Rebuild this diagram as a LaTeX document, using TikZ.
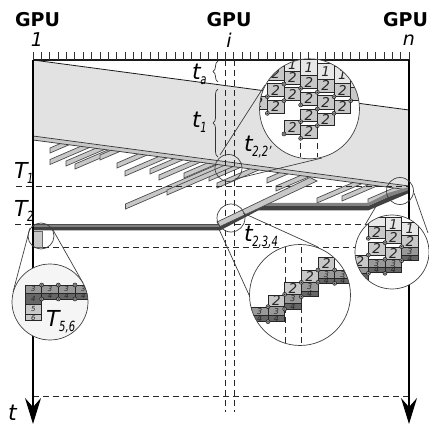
\documentclass[tikz,border=0pt]{standalone}
\usepackage{fontspec}
\usepackage{graphicx}
\setmainfont{DejaVu Sans}
\usetikzlibrary{arrows.meta,decorations.pathreplacing}
\definecolor{gi}{HTML}{E8E8E8}
\definecolor{gii}{HTML}{C8C8C8}
\definecolor{giii}{HTML}{999999}
\definecolor{giv}{HTML}{666666}
\definecolor{bandc}{HTML}{E2E2E2}
\definecolor{inkc}{HTML}{1A1A1A}
\newcount\blkn
\newcommand{\fs}[1]{\fontsize{#1}{#1}\selectfont}
\newcommand{\subl}[1]{\kern-0.5pt\raisebox{-5pt}{\scalebox{0.72}[1]{\fs{14}#1}}}
\newcommand{\blk}[6]{\draw[blockbox,fill=#5] (#1,#2) rectangle (#3,#4);
  \global\advance\blkn by 1
  \node[blocklab] (blk\the\blkn) at ({(#1+#3)/2},{(#2+#4)/2}) {#6};}
\newcommand{\dotm}[2]{\fill[giii,draw=inkc,line width=0.5pt] (#1,#2) circle[radius=2pt];\fill[inkc] (#1,#2) circle[radius=0.6pt];}
\newcommand{\strp}[2]{\draw[stripc] (#1,#2) -- ++(0,5) -- ++(125,-53.75) -- ++(0,-5) -- cycle;}
\tikzset{
  gpu/.style={font=\fs{19}\bfseries,text=black,inner sep=0},
  lab/.style={font=\fs{22}\itshape,text=black,inner sep=0,anchor=west},
  idx/.style={font=\fs{19}\itshape,text=black,inner sep=0},
  axisl/.style={line width=1.8pt,black,-{Stealth[length=26pt,width=16pt,inset=9pt]}},
  dashl/.style={line width=0.8pt,black!85,dash pattern=on 6pt off 4pt},
  stripc/.style={fill=gii,draw=black!70,line width=0.7pt},
  lensline/.style={line width=0.7pt,black!75},
  blockbox/.style={draw=black!85,line width=0.8pt},
  blocklab/.style={font=\fs{\blockfs}\itshape,text=black!85,inner sep=0},
  bracec/.style={decorate,decoration={brace,amplitude=5pt},line width=0.7pt,black!80},
}
\newcommand{\blockfs}{13.5}
\begin{document}
\begin{tikzpicture}[x=1pt,y=-1pt]
\useasboundingbox (0,0) rectangle (429,425);
% named points
\coordinate (tl) at (33,60); \coordinate (tr) at (409,60);
\coordinate (bl) at (33,424); \coordinate (br) at (409,424);
\coordinate (s1) at (228.5,168); \coordinate (c1) at (309.5,108.8);
\coordinate (s2) at (400,191);   \coordinate (c2) at (392,252);
\coordinate (s3) at (231,218);   \coordinate (c3) at (300,295);
\coordinate (s4) at (41,236);    \coordinate (c4) at (50,302);
% hatches
\begin{scope}
\clip (33,140) -- (409,190) -- (409,300) -- (33,300) -- cycle;
\strp{50}{148}\strp{50}{159.5}\strp{66}{161}\strp{75}{164}\strp{100}{155}
\strp{117}{163}\strp{125}{171}\strp{150}{169}\strp{159}{175}\strp{184}{173}
\strp{217}{183}\strp{267}{178}\strp{276}{186}\strp{317}{198}\strp{342}{196}\strp{368}{199}
\strp{209}{176}\strp{125.5}{204}\strp{167}{190}
\end{scope}
% main band
\fill[bandc] (33,60) -- (409,110) -- (409,186) -- (33,136) -- cycle;
\draw[line width=0.8pt,inkc] (33,60) -- (409,110);
\draw[line width=0.7pt,black!80,fill=gii] (33,136) -- (409,186) -- (409,190) -- (33,140) -- cycle;
% T lines
\draw[dashl] (16,186) -- (409,186);
\draw[dashl] (15,224) -- (409,224);
\draw[dashl] (33,247) -- (409,247);
\draw[dashl] (33,396) -- (409,396);
\draw[dashl] (225.5,60) -- (225.5,412);
\draw[dashl] (234,60) -- (234,412);
% lower band
\fill[giv!65!black] (33,227) -- (218,227) -- (258,206) -- (368,206) -- (388,197) -- (409,189) -- (409,193) -- (388,202) -- (368,210.5) -- (258,210.5) -- (220,230.5) -- (33,230.5) -- cycle;
\fill[giii!85!black] (33,224.5) -- (218,224.5) -- (258,203) -- (368,203) -- (388,193) -- (409,187) -- (409,190) -- (388,197) -- (368,206) -- (258,206) -- (218,227) -- (33,227) -- cycle;
\draw[stripc] (217,222) -- (220,226.5) -- (317,181) -- (310,177.5) -- cycle;
\draw[line width=0.6pt,black!70] (33,224.5) -- (218,224.5);
% box under small circle
\draw[fill=gii,draw=black!60,line width=0.6pt] (33,231) rectangle (42,247);
% axes
\draw[line width=1.2pt,inkc] (tl) -- (tr);
\foreach \i in {0,...,45}{\draw[line width=0.6pt,black!80] ({33+8.356*\i},52) -- ({33+8.356*\i},60);}
\draw[axisl] (tl) -- (bl);
\draw[axisl] (tr) -- (br);
% lens lines
\draw[lensline] (220,155) -- (265,85);
\draw[lensline] (235,179) -- (322,158);
\draw[lensline] (378,203) -- (365,225);
\draw[lensline] (414,193) -- (428,233);
\draw[lensline] (218,227) -- (250,297);
\draw[lensline] (243,213) -- (318,247);
\draw[lensline] (30,228) -- (13,292);
\draw[lensline] (53,230) -- (83,283);
% lens 1
\fill[white] (c1) circle[radius=50pt];
\draw[dashl] (300.7,143) -- (300.7,157);
\draw[dashl] (317.3,143) -- (317.3,157);
\begin{scope}
\clip (c1) circle[radius=50pt];
\begin{scope}[shift={(255pt,-55pt)},x=0.3333pt,y=-0.3333pt]
\blk{87}{10}{137}{50}{gi}{1}
\blk{137}{12}{187}{62}{gi}{1}
\blk{187}{25}{237}{72}{gi}{1}
\blk{237}{35}{287}{85}{gi}{1}
\blk{287}{50}{337}{97}{gi}{}
\blk{37}{35}{87}{75}{gii}{2}
\blk{-13}{125}{37}{162}{gii}{2}
\blk{37}{85}{87}{125}{gii}{2}
\blk{37}{135}{87}{175}{gii}{2}
\blk{87}{50}{137}{87}{gii}{2}
\blk{87}{97}{137}{137}{gii}{2}
\blk{87}{197}{137}{237}{gii}{2}
\blk{137}{62}{187}{100}{gii}{2}
\blk{137}{112}{187}{150}{gii}{2}
\blk{137}{162}{187}{200}{gii}{2}
\blk{137}{212}{187}{250}{gii}{2}
\blk{187}{72}{237}{112}{gii}{2}
\blk{187}{122}{237}{162}{gii}{2}
\blk{187}{175}{237}{212}{gii}{2}
\blk{237}{85}{287}{125}{gii}{2}
\blk{237}{135}{287}{175}{gii}{2}
\blk{287}{97}{337}{137}{gii}{}
\foreach \p/\q in {37/125,37/175,87/87,87/137,87/237,137/100,137/150,137/200,137/250,187/112,187/162,187/212,237/125,237/175,287/137}{\dotm{\p}{\q}}
\end{scope}
\end{scope}
\draw[lensline] (c1) circle[radius=50pt];
% lens 2
\fill[white] (c2) circle[radius=37pt];
\begin{scope}
\clip (c2) circle[radius=37pt];
\begin{scope}[shift={(350pt,-210pt)},x=0.3333pt,y=-0.3333pt]
\blk{55}{23}{105}{48}{gi}{}
\blk{105}{23}{155}{62}{gi}{1}
\blk{155}{37}{205}{75}{gi}{1}
\blk{55}{48}{105}{85}{gii}{2}
\blk{55}{97}{105}{135}{gii}{2}
\blk{105}{62}{155}{100}{gii}{2}
\blk{105}{112}{155}{148}{gii}{2}
\blk{155}{75}{205}{113}{gii}{2}
\blk{5}{135}{55}{172}{gii}{2}
\renewcommand{\blockfs}{8}
\blk{55}{148}{105}{172}{giii}{3}
\blk{105}{148}{155}{172}{giii}{3}
\blk{155}{113}{205}{137}{giii}{3}
\blk{55}{172}{105}{188}{giv}{4}
\blk{105}{172}{155}{188}{giv}{4}
\blk{155}{137}{205}{152}{giv}{4}
\blk{5}{172}{55}{190}{giii}{}
\blk{5}{190}{55}{215}{giv}{}
\renewcommand{\blockfs}{13.5}
\foreach \p/\q in {55/85,55/135,105/98,105/148,155/110,155/152,55/190,105/190}{\dotm{\p}{\q}}
\end{scope}
\end{scope}
\draw[lensline] (c2) circle[radius=37pt];
% lens 3
\fill[white] (c3) circle[radius=50.5pt];
\draw[dashl] (285,247) -- (285,345);
\draw[dashl] (301.5,247) -- (301.5,345);
\begin{scope}
\clip (c3) circle[radius=50.5pt];
\begin{scope}[shift={(245pt,-240pt)},x=0.3333pt,y=-0.3333pt]
\blk{69}{165}{119}{200}{gii}{2}
\blk{119}{127}{169}{163}{gii}{2}
\blk{169}{90}{219}{127}{gii}{2}
\blk{219}{53}{269}{90}{gii}{2}
\renewcommand{\blockfs}{8}
\blk{19}{203}{69}{227}{giii}{3}
\blk{69}{200}{119}{227}{giii}{3}
\blk{119}{163}{169}{190}{giii}{3}
\blk{169}{127}{219}{153}{giii}{3}
\blk{219}{90}{269}{115}{giii}{3}
\blk{269}{90}{319}{115}{giii}{3}
\blk{19}{227}{69}{243}{giv}{4}
\blk{69}{227}{119}{243}{giv}{4}
\blk{119}{190}{169}{207}{giv}{4}
\blk{169}{153}{219}{170}{giv}{4}
\blk{219}{115}{269}{130}{giv}{4}
\blk{269}{115}{319}{130}{giv}{4}
\renewcommand{\blockfs}{13.5}
\foreach \p/\q in {69/200,119/207,119/163,169/170,169/127,219/127,219/90,269/90,269/130,69/245}{\dotm{\p}{\q}}
\end{scope}
\end{scope}
\draw[lensline] (c3) circle[radius=50.5pt];
% lens 4
\fill[black!4] (c4) circle[radius=38pt];
\begin{scope}
\clip (c4) circle[radius=38pt];
\begin{scope}[shift={(5pt,-255pt)},x=0.3333pt,y=-0.3333pt]
\renewcommand{\blockfs}{7}
\blk{60}{90}{110}{115}{giii}{3}
\blk{110}{90}{160}{115}{giii}{3}
\blk{160}{90}{210}{115}{giii}{3}
\blk{210}{90}{260}{115}{giii}{3}
\blk{60}{115}{110}{147}{giv}{4}
\blk{110}{115}{160}{132}{giv}{4}
\blk{160}{115}{210}{132}{giv}{4}
\blk{210}{115}{260}{132}{giv}{4}
\blk{60}{147}{110}{178}{gii}{5}
\blk{60}{178}{110}{197}{gii}{6}
\renewcommand{\blockfs}{13.5}
\foreach \p/\q in {110/90,160/90,210/90,110/132,160/132,210/132}{\dotm{\p}{\q}}
\end{scope}
\end{scope}
\draw[lensline] (c4) circle[radius=38pt];
% small circles
\draw[lensline] (s1) circle[radius=13.5pt];
\draw[lensline] (s2) circle[radius=13.5pt];
\draw[lensline] (s3) circle[radius=14pt];
\draw[lensline] (s4) circle[radius=13pt];
% braces
\coordinate (ba1) at (218,61); \coordinate (ba2) at (218,82);
\coordinate (bb1) at (218,89); \coordinate (bb2) at (218,157);
\draw[bracec] (ba2) -- (ba1);
\draw[bracec] (bb2) -- (bb1);
% text
\node[gpu] (g1) at (37.5,20) {GPU};
\node[gpu] (g2) at (229,20) {GPU};
\node[gpu] (g3) at (405.5,20) {GPU};
\node[idx] (n1) at (37,40) {1};
\node[idx] (n2) at (229,40) {i};
\node[idx] (n3) at (409,40) {n};
\node[lab] (ta) at (192,74) {t\subl{a}};
\node[lab] (t1) at (192,122) {t\subl{1}};
\node[lab] (T1) at (14,173) {T\subl{1}};
\node[lab] (T2) at (14,211) {T\subl{2}};
\node[lab] (t22) at (244,147) {t\subl{2,2'}};
\node[lab] (t234) at (244,237) {t\subl{2,3,4}};
\node[lab] (T56) at (46,322) {T\subl{5,6}};
\node[lab] (tt) at (8,413) {t};
\end{tikzpicture}
\end{document}
